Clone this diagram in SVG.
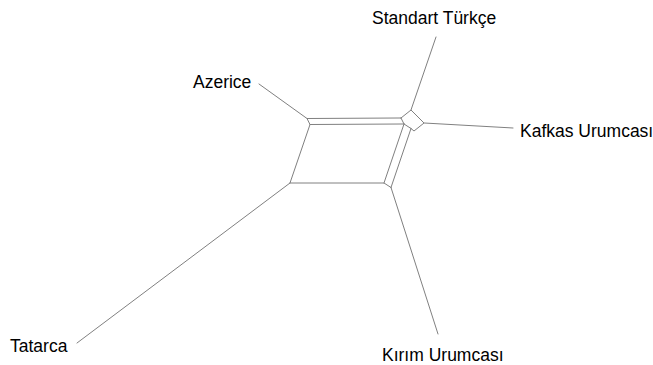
<svg xmlns="http://www.w3.org/2000/svg" width="653" height="365" viewBox="0 0 653 365">
<style>
.e{stroke:#808080;stroke-width:1;fill:none;stroke-linecap:round;stroke-linejoin:round}
.t{font-family:"Liberation Sans",Arial,sans-serif;font-size:17.5px;fill:#000}
</style>
<rect width="653" height="365" fill="#fff"/>
<g id="connectors" class="e">
<path d="M259,84 L307,118.5"/>
<path d="M436,37 L411,110"/>
<path d="M424,123 L513,128"/>
<path d="M391,187.5 L438,334"/>
<path d="M290,183 L77,343"/>
<path d="M290,183 L310,124.5 L307,118.5 L401,118"/>
<path d="M310,124.5 L404,124"/>
<path d="M290,183 L384,183 L391,187.5"/>
<path d="M384,183 L404,124"/>
<path d="M391,187.5 L411,128.5"/>
<path d="M401,118 L404,124 L411,128.5"/>
<path d="M401,118 L411,110 L424,123 L414,131 L411,128.5"/>
</g>
<g id="node-standart-turkce"><text class="t" x="372" y="24">Standart Türkçe</text></g>
<g id="node-azerice"><text class="t" x="193" y="88">Azerice</text></g>
<g id="node-kafkas-urumcasi"><text class="t" x="520" y="137">Kafkas Urumcası</text></g>
<g id="node-kirim-urumcasi"><text class="t" x="382" y="361">Kırım Urumcası</text></g>
<g id="node-tatarca"><text class="t" x="10" y="352">Tatarca</text></g>
</svg>
